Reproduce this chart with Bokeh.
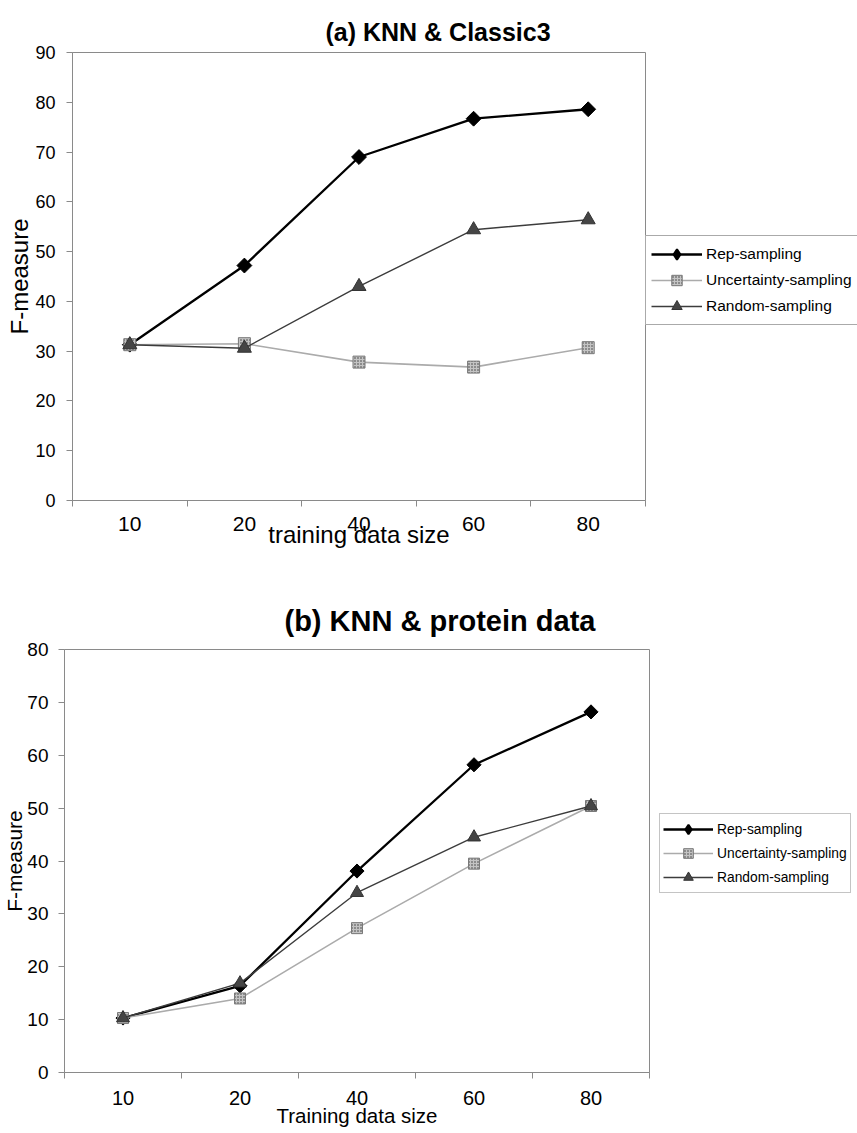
import numpy as np
from bokeh.plotting import figure
from bokeh.models import Range1d, FixedTicker, Legend, LegendItem
from bokeh.layouts import column
from bokeh.embed import file_html
from bokeh.resources import INLINE

# ---------------- data ----------------
sizes = ["10", "20", "40", "60", "80"]
series_names = ["Rep-sampling", "Uncertainty-sampling", "Random-sampling"]

a_rep = [31.3, 47.2, 69.0, 76.7, 78.6]
a_unc = [31.3, 31.5, 27.8, 26.8, 30.7]
a_rnd = [31.3, 30.6, 43.0, 54.4, 56.4]

b_rep = [10.3, 16.4, 38.1, 58.2, 68.2]
b_unc = [10.3, 14.0, 27.3, 39.5, 50.4]
b_rnd = [10.3, 16.9, 34.0, 44.5, 50.4]

a_yticks = [0, 10, 20, 30, 40, 50, 60, 70, 80, 90]
b_yticks = [0, 10, 20, 30, 40, 50, 60, 70, 80]

a_title = "(a) KNN & Classic3"
b_title = "(b) KNN & protein data"
a_xlabel = "training data size"
b_xlabel = "Training data size"
ylabel = "F-measure"

FONT = "Liberation Sans"
AX = "#8a8a8a"


def make(title, xlabel, ymax, yticks, series, c):
    xs = [i + 0.5 for i in range(len(sizes))]
    p = figure(frame_width=c["fw"], frame_height=c["fh"],
               x_range=Range1d(0, len(sizes)), y_range=Range1d(0, ymax),
               output_backend="svg", toolbar_location=None,
               min_border_left=c["bl"], min_border_top=c["bt"],
               min_border_bottom=c["bb"], min_border_right=c["br"],
               background_fill_color="white", border_fill_color="white",
               outline_line_color=AX, outline_line_width=1,
               title=title)
    p.grid.visible = False

    p.title.align = "left"
    p.title.offset = c["toff"]
    p.title.standoff = c["tstand"]
    p.title.text_font = FONT
    p.title.text_font_style = "bold"
    p.title.text_font_size = c["tsize"]
    p.title.text_color = "#000000"

    xa = p.xaxis[0]
    xa.ticker = FixedTicker(ticks=xs, minor_ticks=list(range(len(sizes) + 1)))
    xa.major_label_overrides = {x: s for x, s in zip(xs, sizes)}
    xa.major_tick_line_color = None
    xa.major_tick_out = 6
    xa.major_tick_in = 0
    xa.minor_tick_out = 6
    xa.minor_tick_in = 0
    xa.minor_tick_line_color = AX
    xa.axis_line_color = AX
    xa.major_label_text_font = FONT
    xa.major_label_text_font_size = c["xls"]
    xa.major_label_text_color = "#000000"
    xa.major_label_standoff = c["xlstand"]
    xa.axis_label = xlabel
    xa.axis_label_text_font = FONT
    xa.axis_label_text_font_style = "normal"
    xa.axis_label_text_font_size = c["xts"]
    xa.axis_label_text_color = "#000000"
    xa.axis_label_standoff = c["xtstand"]

    ya = p.yaxis[0]
    ya.ticker = FixedTicker(ticks=yticks, minor_ticks=[])
    ya.major_tick_out = 6
    ya.major_tick_in = 0
    ya.major_tick_line_color = AX
    ya.minor_tick_line_color = None
    ya.axis_line_color = AX
    ya.major_label_text_font = FONT
    ya.major_label_text_font_size = c["yls"]
    ya.major_label_text_color = "#000000"
    ya.major_label_standoff = c["ylstand"]
    ya.axis_label = ylabel
    ya.axis_label_text_font = FONT
    ya.axis_label_text_font_style = "normal"
    ya.axis_label_text_font_size = c["yts"]
    ya.axis_label_text_color = "#000000"
    ya.axis_label_standoff = c["ytstand"]

    rep, unc, rnd = series
    l1 = p.line(xs, rep, line_color="#000000", line_width=2.3)
    p.scatter(xs, rep, marker="square", angle=np.pi / 4, size=c["ds"],
              fill_color="#000000", line_color="#000000")
    # legend-only glyph (diamond shape for the key)
    k1 = p.scatter(xs, rep, marker="diamond", size=c["ds"],
                   fill_color="#000000", line_color="#000000", line_width=2,
                   visible=False)
    l2 = p.line(xs, unc, line_color="#ababab", line_width=1.6)
    s2 = p.scatter(xs, unc, marker="square", size=c["ss"],
                   fill_color="#8c8c8c", line_color="#7a7a7a",
                   hatch_pattern="+", hatch_color="#c4c4c4", hatch_scale=3,
                   hatch_weight=1)
    l3 = p.line(xs, rnd, line_color="#3c3c3c", line_width=1.4)
    s3 = p.scatter(xs, rnd, marker="triangle", size=c["ts"],
                   fill_color="#454545", line_color="#333333")
    items = [LegendItem(label=series_names[0], renderers=[l1, k1]),
             LegendItem(label=series_names[1], renderers=[l2, s2]),
             LegendItem(label=series_names[2], renderers=[l3, s3])]
    leg = Legend(items=items, location=c["lloc"], orientation="vertical",
                 label_text_font=FONT, label_text_font_size=c["lfs"],
                 label_text_color="#000000",
                 glyph_width=c["gw"], glyph_height=c["gh"], label_height=c["gh"],
                 spacing=0, padding=c["lpad"], margin=0, label_standoff=4,
                 border_line_color=c["lborder"], border_line_width=1,
                 background_fill_color="white", background_fill_alpha=1.0)
    p.add_layout(leg, "right")
    return p


ca = dict(fw=573, fh=448, bl=72, bt=52, bb=70, br=212,
          toff=253, tstand=13, tsize="25px",
          xls="21px", xlstand=10, xts="24px", xtstand=-13,
          yls="18px", ylstand=11, yts="24px", ytstand=-1,
          ds=10.5, ss=12, ts=14,
          lloc=(0, 175), lfs="15.5px", gw=51, gh=26, lpad=5, lborder="#555555")

cb = dict(fw=585, fh=423, bl=64, bt=79, bb=60, br=208,
          toff=220, tstand=26, tsize="29px",
          xls="20px", xlstand=12, xts="20.5px", xtstand=-4,
          yls="19px", ylstand=10, yts="21px", ytstand=-2,
          ds=10, ss=11, ts=13,
          lloc=(10, 179), lfs="13.8px", gw=50, gh=24, lpad=3, lborder="#8a8a8a")

pa = make(a_title, a_xlabel, 90, a_yticks, (a_rep, a_unc, a_rnd), ca)
pb = make(b_title, b_xlabel, 80, b_yticks, (b_rep, b_unc, b_rnd), cb)

# wrap each figure separately so the two plot frames are laid out independently
layout = column(column(pa), column(pb), spacing=0)
open("out.html", "w").write(file_html(layout, INLINE))
